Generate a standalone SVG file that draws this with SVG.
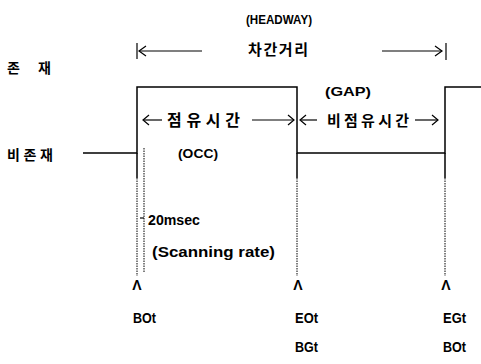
<svg xmlns="http://www.w3.org/2000/svg" width="481" height="364" viewBox="0 0 481 364">
<style>
.t{font-family:"Liberation Sans","Noto Sans CJK KR",sans-serif;font-weight:bold;fill:#000}
.k{font-family:"Noto Sans CJK KR","Liberation Sans",sans-serif;font-weight:bold;fill:#000}
.ln{stroke:#000;stroke-width:1.5;fill:none}
.th{stroke:#000;stroke-width:1.2;fill:none}
.dot{stroke:#000;stroke-width:1;stroke-dasharray:1.5 1;fill:none}
</style>
<rect width="481" height="364" fill="#fff"/>
<g id="signal">
<polyline class="ln" points="83,153 137,153 137,87 297,87 297,153 445,153 445,87 481,87"/>
</g>
<g id="connectors">
<line class="ln" x1="137" y1="153" x2="137" y2="178"/>
<line class="ln" x1="297" y1="153" x2="297" y2="178"/>
<line class="ln" x1="445" y1="153" x2="445" y2="178"/>
<line class="dot" x1="137" y1="178" x2="137" y2="276"/>
<line class="dot" x1="144" y1="148" x2="144" y2="272"/>
<line class="th" x1="140" y1="218" x2="144" y2="218"/>
<line class="dot" x1="297" y1="178" x2="297" y2="276"/>
<line class="dot" x1="445" y1="178" x2="445" y2="276"/>
<line class="th" x1="137" y1="43" x2="137" y2="59"/>
<polyline class="th" points="146,46 139,51 146,56"/>
<line class="th" x1="139" y1="51" x2="202" y2="51"/>
<line class="th" x1="382" y1="51" x2="442" y2="51"/>
<polyline class="th" points="435,46 442,51 435,56"/>
<line class="th" x1="446" y1="43" x2="446" y2="60"/>
<polyline class="th" points="149,115 143,120 149,125"/>
<line class="th" x1="144" y1="120" x2="162" y2="120"/>
<line class="th" x1="252" y1="120" x2="294" y2="120"/>
<polyline class="th" points="288,115 294,120 288,125"/>
<polyline class="th" points="306,115 300,120 306,125"/>
<line class="th" x1="301" y1="120" x2="317" y2="120"/>
<line class="th" x1="415" y1="120" x2="438" y2="120"/>
<polyline class="th" points="432,115 438,120 432,125"/>
</g>
<g id="labels-left">
<text class="k" x="7" y="73" font-size="14">존</text>
<text class="k" x="38" y="73" font-size="14">재</text>
<text class="k" x="7" y="160" font-size="14" textLength="46" lengthAdjust="spacing">비존재</text>
</g>
<g id="labels-top">
<text class="t" x="246" y="24" font-size="12" textLength="66" lengthAdjust="spacingAndGlyphs">(HEADWAY)</text>
<text class="k" x="248" y="55" font-size="15" textLength="60" lengthAdjust="spacing">차간거리</text>
<text class="t" x="325" y="96" font-size="12" textLength="46" lengthAdjust="spacingAndGlyphs">(GAP)</text>
<text class="k" x="167" y="126" font-size="16" textLength="73" lengthAdjust="spacing">점유시간</text>
<text class="k" x="327" y="126" font-size="15" textLength="82" lengthAdjust="spacing">비점유시간</text>
</g>
<g id="labels-mid">
<text class="t" x="178" y="158" font-size="13" textLength="40" lengthAdjust="spacingAndGlyphs">(OCC)</text>
<text class="t" x="148" y="225" font-size="14" textLength="52" lengthAdjust="spacingAndGlyphs">20msec</text>
<text class="t" x="152" y="257" font-size="14" textLength="123" lengthAdjust="spacingAndGlyphs">(Scanning rate)</text>
</g>
<g id="labels-bottom">
<text class="t" x="137" y="290" font-size="14" text-anchor="middle">Λ</text>
<text class="t" x="298" y="290" font-size="14" text-anchor="middle">Λ</text>
<text class="t" x="446" y="290" font-size="14" text-anchor="middle">Λ</text>
<text class="t" x="133" y="323" font-size="14" textLength="23" lengthAdjust="spacingAndGlyphs">BOt</text>
<text class="t" x="295" y="323" font-size="14" textLength="23" lengthAdjust="spacingAndGlyphs">EOt</text>
<text class="t" x="443" y="323" font-size="14" textLength="23" lengthAdjust="spacingAndGlyphs">EGt</text>
<text class="t" x="295" y="352" font-size="14" textLength="23" lengthAdjust="spacingAndGlyphs">BGt</text>
<text class="t" x="443" y="352" font-size="14" textLength="23" lengthAdjust="spacingAndGlyphs">BOt</text>
</g>
</svg>
